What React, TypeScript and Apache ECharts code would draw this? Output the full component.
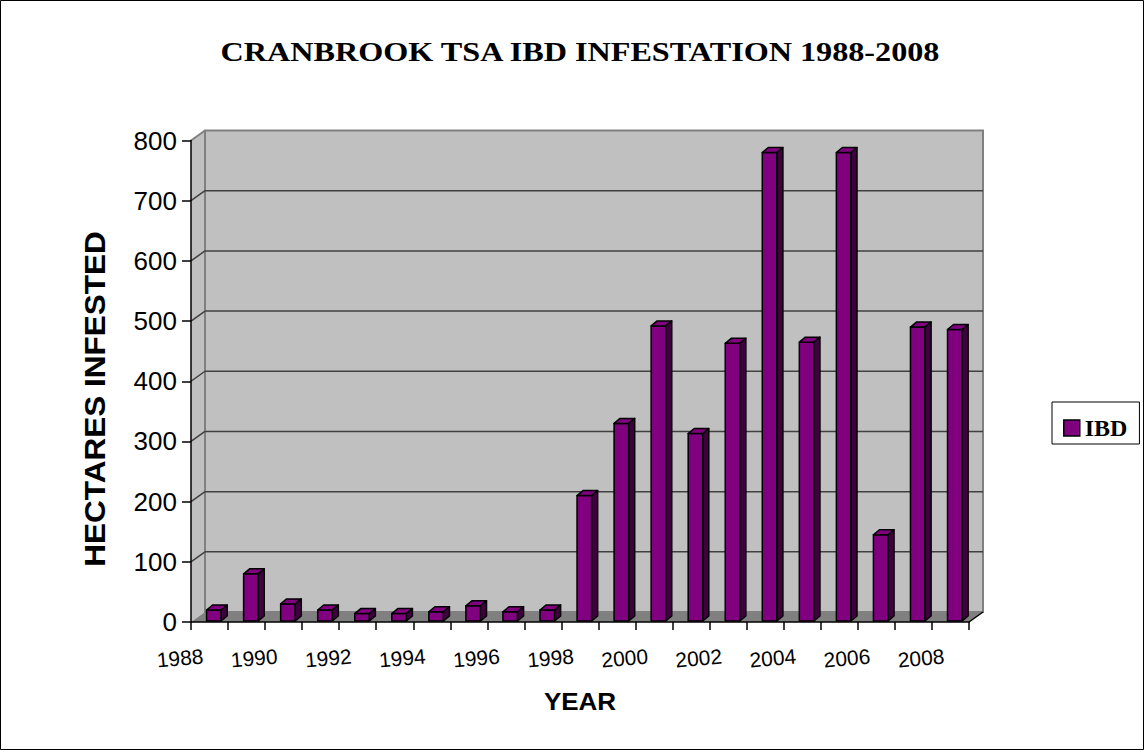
import React, { useEffect, useRef } from "react";
import * as echarts from "echarts";

const TITLE = "CRANBROOK TSA IBD INFESTATION 1988-2008";
const SERIES_NAME = "IBD";
const X_AXIS_TITLE = "YEAR";
const Y_AXIS_TITLE = "HECTARES INFESTED";
const YEARS = [
  1988, 1989, 1990, 1991, 1992, 1993, 1994, 1995, 1996, 1997, 1998,
  1999, 2000, 2001, 2002, 2003, 2004, 2005, 2006, 2007, 2008,
];
const HECTARES = [
  20, 80, 30, 20, 14, 14, 17, 27, 17, 20, 210,
  330, 492, 313, 463, 780, 465, 780, 145, 490, 486,
];
const Y_TICKS = [0, 100, 200, 300, 400, 500, 600, 700, 800];

const WALL = "#C0C0C0";
const FLOOR = "#808080";
const EDGE = "#808080";
const GRID = "#404040";
const PURPLE = "#800080";
const PURPLE_DARK = "#400040";

export default function App() {
  const ref = useRef<HTMLDivElement>(null);
  useEffect(() => {
    if (!ref.current) return;
    const chart = echarts.init(ref.current, null, { renderer: "svg" });
    const yMin = Y_TICKS[0];
    const yMax = Y_TICKS[Y_TICKS.length - 1];
    const DX = 14;
    const DY = -10;

    const wallRender = (_params: any, api: any) => {
      const o = api.coord([0, yMin]);
      const t = api.coord([0, yMax]);
      const r = api.coord([YEARS.length, yMin]);
      const x0 = o[0], y0 = o[1], yT = t[1], xR = r[0];
      const children: any[] = [
        {
          type: "polygon",
          shape: { points: [[x0, yT], [x0 + DX, yT + DY], [x0 + DX, y0 + DY], [x0, y0]] },
          style: { fill: WALL },
        },
        {
          type: "rect",
          shape: { x: x0 + DX, y: yT + DY, width: xR - x0, height: y0 - yT },
          style: { fill: WALL, stroke: EDGE, lineWidth: 2 },
        },
        {
          type: "polygon",
          shape: { points: [[x0, y0], [x0 + DX, y0 + DY], [xR + DX, y0 + DY], [xR, y0]] },
          style: { fill: FLOOR },
        },
        {
          type: "line",
          shape: { x1: x0, y1: yT, x2: x0 + DX, y2: yT + DY },
          style: { stroke: EDGE, lineWidth: 2 },
        },
        {
          type: "line",
          shape: { x1: xR, y1: y0, x2: xR + DX, y2: y0 + DY },
          style: { stroke: "#000", lineWidth: 1.5 },
        },
      ];
      Y_TICKS.slice(1, Y_TICKS.length - 1).forEach((v) => {
        const p = api.coord([0, v]);
        children.push({
          type: "line",
          shape: { x1: p[0], y1: p[1], x2: p[0] + DX, y2: p[1] + DY },
          style: { stroke: GRID, lineWidth: 1.5 },
        });
        children.push({
          type: "line",
          shape: { x1: p[0] + DX, y1: p[1] + DY, x2: xR + DX, y2: p[1] + DY },
          style: { stroke: GRID, lineWidth: 1.5 },
        });
      });
      return { type: "group", children };
    };

    const barRender = (_params: any, api: any) => {
      const i = api.value(0);
      const v = api.value(1);
      const xl = api.coord([i + 0.42, 0])[0];
      const xr = api.coord([i + 0.815, 0])[0];
      const yb = api.coord([i, 0])[1] - 1;
      const yt = api.coord([i, v])[1];
      const d = 6;
      const h = -5;
      const s = { stroke: "#000", lineWidth: 1.5, lineJoin: "round" };
      return {
        type: "group",
        children: [
          {
            type: "rect",
            shape: { x: xl, y: yt, width: xr - xl, height: yb - yt },
            style: { fill: PURPLE, ...s },
          },
          {
            type: "polygon",
            shape: { points: [[xl, yt], [xl + d, yt + h], [xr + d, yt + h], [xr, yt]] },
            style: { fill: PURPLE, ...s },
          },
          {
            type: "polygon",
            shape: { points: [[xr, yt], [xr + d, yt + h], [xr + d, yb + h], [xr, yb]] },
            style: { fill: PURPLE_DARK, ...s },
          },
        ],
      };
    };

    chart.setOption({
      animation: false,
      backgroundColor: "#fff",
      grid: { left: 191, right: 175, top: 140.5, bottom: 128 },
      legend: {
        data: [
          {
            name: SERIES_NAME,
            icon: "rect",
            itemStyle: { color: PURPLE, borderColor: "#000", borderWidth: 1.5 },
          },
        ],
        left: 1052,
        top: 402,
        orient: "vertical",
        padding: [14, 12, 4, 11],
        itemWidth: 16,
        itemHeight: 16,
        borderColor: "#000",
        borderWidth: 1,
        selectedMode: false,
        textStyle: {
          fontFamily: "Liberation Serif",
          fontWeight: "bold",
          fontSize: 24,
          lineHeight: 24,
          color: "#000",
        },
      },
      xAxis: {
        type: "value",
        min: 0,
        max: YEARS.length,
        interval: 1,
        z: 5,
        splitLine: { show: false },
        axisLine: { show: true, lineStyle: { color: "#000", width: 1.5 } },
        axisTick: { show: true, length: 8, lineStyle: { color: "#000", width: 1.5 } },
        axisLabel: {
          rotate: 5,
          align: "center",
          verticalAlign: "middle",
          margin: 35,
          padding: [0, 22, 0, 0],
          fontSize: 21,
          fontFamily: "Liberation Sans",
          color: "#000",
          formatter: (v: number) =>
            v % 2 === 0 && v < YEARS.length ? String(YEARS[v]) : "",
        },
      },
      yAxis: {
        type: "value",
        min: yMin,
        max: yMax,
        interval: Y_TICKS[1] - Y_TICKS[0],
        z: 5,
        splitLine: { show: false },
        axisLine: { show: true, lineStyle: { color: "#000", width: 1.5 } },
        axisTick: { show: true, length: 9, lineStyle: { color: "#000", width: 1.5 } },
        axisLabel: {
          margin: 14,
          fontSize: 26,
          fontFamily: "Liberation Sans",
          color: "#000",
        },
      },
      graphic: [
        {
          type: "rect",
          shape: { x: 0.5, y: 0.5, width: 1143, height: 749 },
          style: { fill: "none", stroke: "#000", lineWidth: 1 },
          silent: true,
        },
        {
          type: "text",
          x: 580,
          y: 52,
          scaleX: 1.15,
          style: {
            text: TITLE,
            font: 'bold 28px "Liberation Serif"',
            fill: "#000",
            align: "center",
            verticalAlign: "middle",
          },
        },
        {
          type: "text",
          x: 580,
          y: 702,
          scaleX: 1.13,
          style: {
            text: X_AXIS_TITLE,
            font: 'bold 23px "Liberation Sans"',
            fill: "#000",
            align: "center",
            verticalAlign: "middle",
          },
        },
        {
          type: "text",
          x: 95,
          y: 399,
          rotation: Math.PI / 2,
          scaleX: 1.087,
          style: {
            text: Y_AXIS_TITLE,
            font: 'bold 29px "Liberation Sans"',
            fill: "#000",
            align: "center",
            verticalAlign: "middle",
          },
        },
      ],
      series: [
        {
          type: "custom",
          name: "walls",
          z: 1,
          silent: true,
          renderItem: wallRender,
          data: [[0, 0]],
        },
        {
          type: "custom",
          name: SERIES_NAME,
          z: 10,
          itemStyle: { color: PURPLE },
          renderItem: barRender,
          encode: { x: 0, y: 1 },
          data: HECTARES.map((v, i) => [i, v]),
        },
      ],
    });
    return () => chart.dispose();
  }, []);

  return (
    <div
      ref={ref}
      style={{ position: "absolute", left: 0, top: 0, width: 1144, height: 750 }}
    />
  );
}
